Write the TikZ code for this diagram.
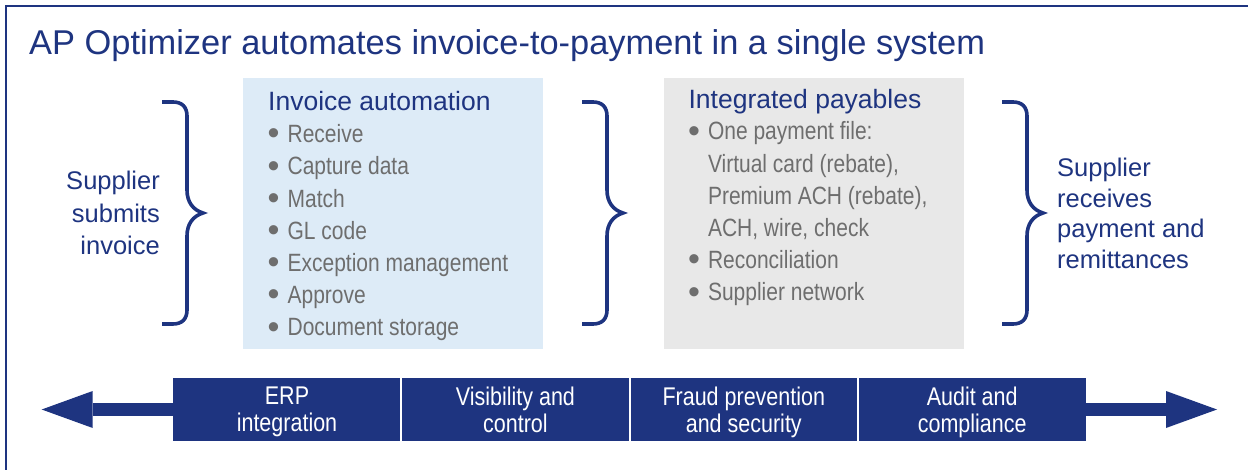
\documentclass[tikz,border=0pt]{standalone}
\usepackage{fontspec}
\setmainfont{Liberation Sans}
\newfontfamily\narrowfont[FakeStretch=0.84]{Liberation Sans}
\usetikzlibrary{positioning,calc,arrows.meta}
\definecolor{apnavy}{HTML}{1E3480}
\definecolor{aplightblue}{HTML}{DDEBF7}
\definecolor{aplightgray}{HTML}{E8E8E8}
\definecolor{aptextgray}{HTML}{6E6E6E}
\newcommand{\bul}{\raisebox{-2.2pt}{\normalfont\fontsize{34}{34}\selectfont\textbullet}}
\tikzset{headline/.style={anchor=base west,inner sep=0,text=apnavy,font=\fontsize{34.4}{40}\selectfont},
         panel/.style={anchor=north west,inner sep=0,minimum width=300pt,minimum height=271pt},
         paneltitle/.style={anchor=base west,inner sep=0,text=apnavy,font=\fontsize{26.5}{32}\selectfont},
         itemlist/.style={anchor=base west,inner sep=0,text=aptextgray,font=\narrowfont\fontsize{25}{32.2}\selectfont},
         sidetext/.style={inner sep=0,text=apnavy,font=\fontsize{25.5}{32.5}\selectfont},
         barcell/.style={fill=apnavy,text=white,inner sep=0,minimum width=228pt,minimum height=62.4pt,text depth=0pt,
                         align=center,font=\narrowfont\fontsize{25.6}{26.7}\selectfont},
         divider/.style={white,line width=2pt},
         bigarrow/.style={apnavy,line width=13.4pt,-{Triangle[length=51pt,width=37pt,line width=0pt]}},
         curly/.pic={\draw[apnavy,line width=3.6pt] (0,0) -- (11,0) .. controls (20,0) and (25,5) .. (25,14) -- (25,88)
                       .. controls (25,100) and (31,108) .. (41,111) .. controls (31,114) and (25,122) .. (25,134)
                       -- (25,208) .. controls (25,217) and (20,222) .. (11,222) -- (0,222);}
}

\begin{document}
\begin{tikzpicture}[x=1pt,y=-1pt]
\useasboundingbox (0,0) rectangle (1248,470);
\draw[apnavy,line width=2pt] (6,470) |- (1248,6.5);

\node[headline] (title) at (29,55) {AP Optimizer automates invoice-to-payment in a single system};

% the two panels
\node[panel,fill=aplightblue] (invbox) at (243,78) {};
\node[panel,fill=aplightgray,right=120pt of invbox] (paybox) {};
\node[paneltitle] (invtitle) at ($(invbox.north west)+(25,33)$) {Invoice automation};
\node[paneltitle] (paytitle) at ($(paybox.north west)+(25,30.5)$) {Integrated payables};
\node[itemlist] (invlist) at ($(invbox.north west)+(24.5,64.7)$) {\begin{tabular}[t]{@{}c@{\hspace{8pt}}l@{}}
  \bul & Receive\\
  \bul & Capture data\\
  \bul & Match\\
  \bul & GL code\\
  \bul & Exception management\\
  \bul & Approve\\
  \bul & Document storage
\end{tabular}};
\node[itemlist] (paylist) at ($(paybox.north west)+(24.5,62)$) {\begin{tabular}[t]{@{}c@{\hspace{8pt}}l@{}}
  \bul & One payment file:\\
       & Virtual card (rebate),\\
       & Premium ACH (rebate),\\
       & ACH, wire, check\\
  \bul & Reconciliation\\
  \bul & Supplier network
\end{tabular}};

% braces and the text beside them
\pic at (162,102) {curly};
\pic at (582,102) {curly};
\pic at (1002,102) {curly};
\node[sidetext,align=right,anchor=base east] (submits) at (160,255) {Supplier\\submits\\invoice};
\node[sidetext,align=left,anchor=base west,font=\fontsize{25.5}{30.5}\selectfont] (receives) at (1057,268.3) {Supplier\\receives\\payment and\\remittances};

% bar with the four cells
\node[barcell] (erp) at (287,409.5) {ERP\\integration};
\node[barcell,right=0pt of erp] (visctl) {Visibility and\\control};
\node[barcell,right=0pt of visctl] (fraud) {Fraud prevention\\and security};
\node[barcell,right=0pt of fraud] (audit) {Audit and\\compliance};
\draw[divider] (visctl.north west) -- (visctl.south west);
\draw[divider] (fraud.north west) -- (fraud.south west);
\draw[divider] (audit.north west) -- (audit.south west);
\coordinate (lefttip) at (41.7,409.5);
\coordinate (righttip) at (1217,409.5);
\draw[bigarrow] (erp.west) -- (lefttip);
\draw[bigarrow] (audit.east) -- (righttip);

\end{tikzpicture}
\end{document}
